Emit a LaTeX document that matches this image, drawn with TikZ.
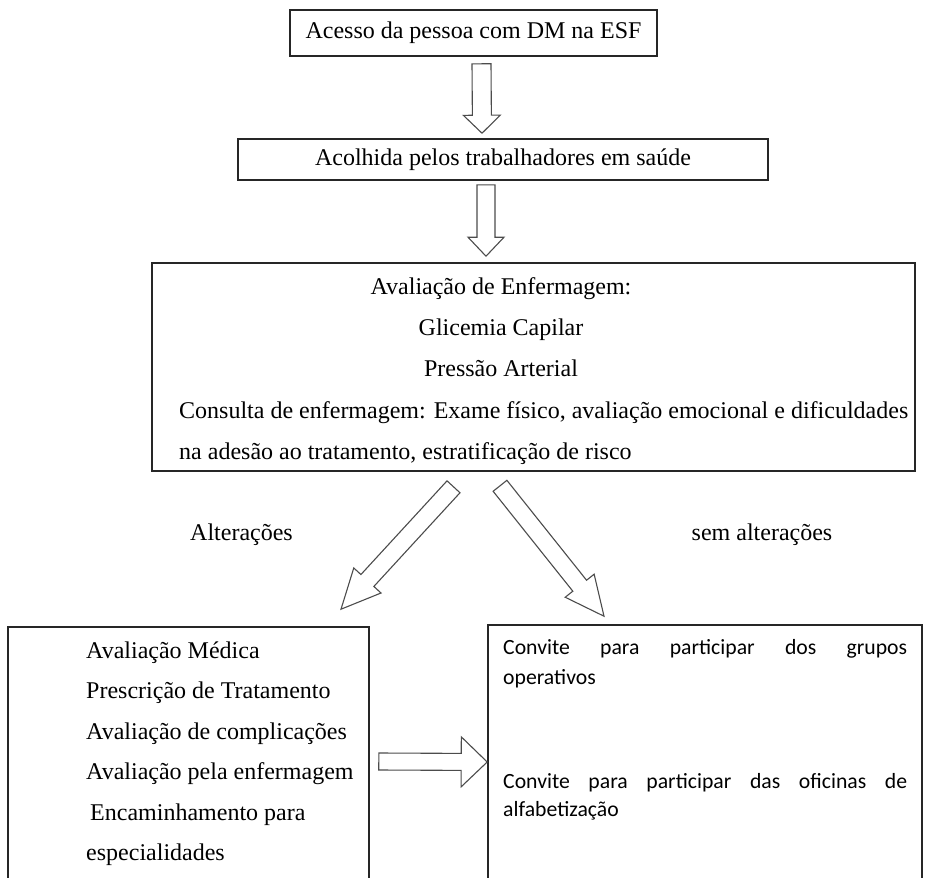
\documentclass[tikz,border=0pt]{standalone}
\usepackage{fontspec}
\setmainfont{Liberation Serif}
\newfontfamily\convfont{Carlito}
\usetikzlibrary{calc,positioning}
\tikzstyle{box} = [draw=black!85, rectangle, line width=1.6pt, inner sep=0pt]
\tikzstyle{item} = [inner sep=0pt, anchor=base west]
\tikzstyle{tag} = [inner sep=0pt]
\tikzstyle{conv} = [item, font=\convfont\fontsize{21.7}{26}\selectfont]
\tikzstyle{bigarrow} = [draw=black!70, line width=1.1pt, fill=white, line join=miter]

% hollow block arrow: from, to, half shaft, half head, head length
\newcommand{\blockarrow}[5]{%
	\coordinate (ba-from) at (#1);
	\coordinate (ba-to) at (#2);
	\coordinate (ba-neck) at ($(ba-to)!#5!(ba-from)$);
	\path[bigarrow] ($(ba-from)!#3!90:(ba-to)$) -- ($(ba-neck)!#3!90:(ba-to)$) -- ($(ba-neck)!#4!90:(ba-to)$) -- (ba-to)
		-- ($(ba-neck)!#4!-90:(ba-to)$) -- ($(ba-neck)!#3!-90:(ba-to)$) -- ($(ba-from)!#3!-90:(ba-to)$) -- cycle;
}

\begin{document}
\begin{tikzpicture}[x=1pt, y=-1pt, font=\fontsize{24}{28}\selectfont]
	\useasboundingbox (0,0) rectangle (935,878);
	\clip (0,0) rectangle (935,878);
	\node[box, minimum width=367pt, minimum height=46pt] (acesso) at (473.5,33) {Acesso da pessoa com DM na ESF};
	\node[box, minimum width=530pt, minimum height=41pt] (acolhida) at (503,159.5) {Acolhida pelos trabalhadores em saúde};
	\node[box, minimum width=763pt, minimum height=208pt] (aval) at (533.5,367) {};
	\node[box, minimum width=361pt, minimum height=275pt] (medica) at (188.5,764.5) {};
	\node[box, minimum width=434pt, minimum height=277pt] (convite) at (705,763.5) {};

	% texto da avaliacao
	\node[tag, anchor=base] (aval1) at (501,294) {Avaliação de Enfermagem:};
	\node[tag, anchor=base] (aval2) at (501,335) {Glicemia Capilar};
	\node[tag, anchor=base] (aval3) at (501,376) {Pressão Arterial};
	\node[item] (aval4) at (179,418) {Consulta de enfermagem: Exame físico, avaliação emocional e dificuldades};
	\node[item] (aval5) at (179,459) {na adesão ao tratamento, estratificação de risco};

	\node[tag] (alt) at (241.5,535) {Alterações};
	\node[tag] (semalt) at (762,535) {sem alterações};

	\foreach \t [count=\i] in {Avaliação Médica, Prescrição de Tratamento, Avaliação de complicações, Avaliação pela enfermagem, \hspace*{4pt}Encaminhamento para, especialidades}
		\node[item] (med\i) at ({86},{658+40.5*(\i-1)}) {\t};

	\node[conv] (conv1) at (503,654) {\makebox[404pt][s]{Convite para participar dos grupos}};
	\node[conv] (conv2) at (503,684) {operativos};
	\node[conv] (conv3) at (503,788) {\makebox[404pt][s]{Convite para participar das oficinas de}};
	\node[conv] (conv4) at (503,816) {alfabetização};

	\blockarrow{$(acesso.south)+(8,7)$}{$(acolhida.north)+(-21,-5)$}{9.5pt}{18.5pt}{18pt}
	\blockarrow{$(acolhida.south)+(-17,4)$}{$(aval.north)+(-47.5,-6)$}{9pt}{18pt}{19pt}
	\blockarrow{$(aval.south)+(-80,15)$}{$(medica.north)+(152.5,-17)$}{8.8pt}{18.5pt}{39pt}
	\blockarrow{$(aval.south)+(-33.5,14)$}{$(convite.north)+(-101,-8)$}{8.8pt}{18.5pt}{39pt}
	\blockarrow{$(medica.east)+(9,-3)$}{$(convite.west)+(0,-1.5)$}{8.5pt}{25pt}{26pt}
\end{tikzpicture}
\end{document}
